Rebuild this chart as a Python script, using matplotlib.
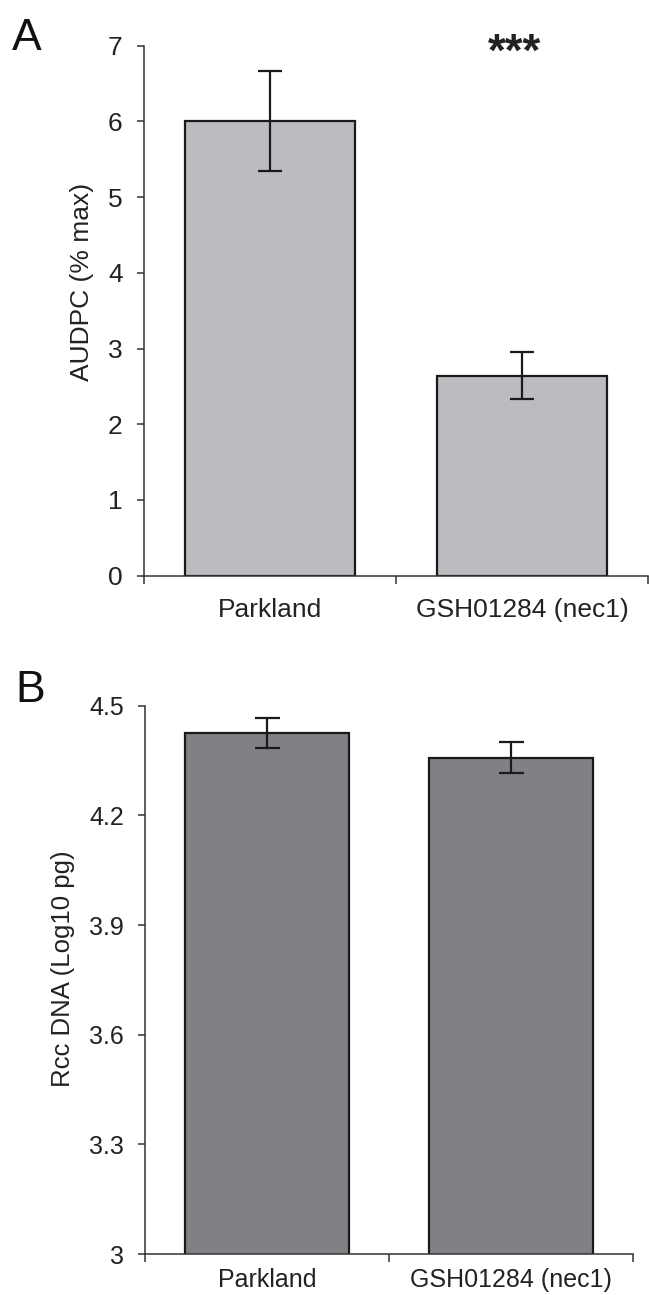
"""Two-panel bar chart: AUDPC and Rcc DNA for Parkland vs GSH01284 (nec1)."""

import matplotlib
matplotlib.use("Agg")
import matplotlib.pyplot as plt

plt.rcParams['font.family'] = ['Liberation Sans', 'DejaVu Sans']

# data
genotypes = ['Parkland', 'GSH01284 (nec1)']
audpc_mean = [6.01, 2.64]
audpc_err = [0.66, 0.31]
rcc_mean = [4.426, 4.358]
rcc_err = [0.041, 0.042]

audpc_ticks = [0, 1, 2, 3, 4, 5, 6, 7]
rcc_ticks = [3.0, 3.3, 3.6, 3.9, 4.2, 4.5]
rcc_ticklabels = ['3', '3.3', '3.6', '3.9', '4.2', '4.5']

W, H = 649, 1295
fig = plt.figure(figsize=(W / 100, H / 100), dpi=100)
fig.patch.set_facecolor('white')


def px_axes(left, right, top, bottom):
    # axes rectangle given in image pixels
    return fig.add_axes([left / W, 1 - bottom / H, (right - left) / W, (bottom - top) / H])


def style_axes(ax, ylim, yticks, yticklabels, fontsize, xpad, ypad):
    ax.set_xlim(-0.5, 1.5)
    ax.set_ylim(*ylim)
    for side in ['top', 'right']:
        ax.spines[side].set_visible(False)
    for side in ['left', 'bottom']:
        ax.spines[side].set_color('#333333')
        ax.spines[side].set_linewidth(1.1)
    ax.set_yticks(yticks)
    ax.set_yticklabels(yticklabels)
    # major x ticks at category borders, labels on minor ticks
    ax.set_xticks([-0.5, 0.5, 1.5])
    ax.set_xticklabels([])
    ax.set_xticks([0, 1], minor=True)
    ax.set_xticklabels(genotypes, minor=True)
    ax.tick_params(axis='x', which='major', direction='out', length=6, width=1.1,
                   color='#333333')
    ax.tick_params(axis='x', which='minor', length=0, pad=xpad, labelsize=fontsize,
                   labelcolor='#222222')
    ax.tick_params(axis='y', direction='out', length=5, width=1.1, color='#333333',
                   pad=ypad, labelsize=fontsize, labelcolor='#222222')
    for t in ax.xaxis.get_major_ticks():
        t.tick1line.set_clip_on(False)


# panel A
axA = px_axes(143.5, 648, 45.7, 575.7)
axA.bar([0, 1], audpc_mean, width=0.674, color='#bbbcbf', edgecolor='#1a1a1a',
        linewidth=1.6, yerr=audpc_err, capsize=8.5,
        error_kw=dict(ecolor='#1a1a1a', elinewidth=1.6, capthick=1.6))
style_axes(axA, (0, 7), audpc_ticks, [str(t) for t in audpc_ticks], 19, 16, 10)
axA.text(0.969, 6.74, '***', ha='center', va='baseline', fontsize=33,
         fontweight='bold', color='#222222', clip_on=False)
fig.text(82 / W, 1 - 282 / H, 'AUDPC (% max)', rotation=90, ha='center',
         va='center', fontsize=19, color='#222222')
fig.text(12 / W, 1 - 50 / H, 'A', ha='left', va='baseline', fontsize=32,
         color='#111111')

# panel B
axB = px_axes(145, 633, 705.7, 1254)
axB.bar([0, 1], rcc_mean, width=0.67, color='#808185', edgecolor='#1a1a1a',
        linewidth=1.6, yerr=rcc_err, capsize=9,
        error_kw=dict(ecolor='#1a1a1a', elinewidth=1.6, capthick=1.6))
style_axes(axB, (3.0, 4.5), rcc_ticks, rcc_ticklabels, 18, 10, 10)
fig.text(63 / W, 1 - 969 / H, 'Rcc DNA (Log10 pg)', rotation=90, ha='center',
         va='center', fontsize=18.5, color='#222222')
fig.text(15 / W, 1 - 702 / H, 'B', ha='left', va='baseline', fontsize=32,
         color='#111111')

fig.savefig('out.png', dpi=100, facecolor='white')
